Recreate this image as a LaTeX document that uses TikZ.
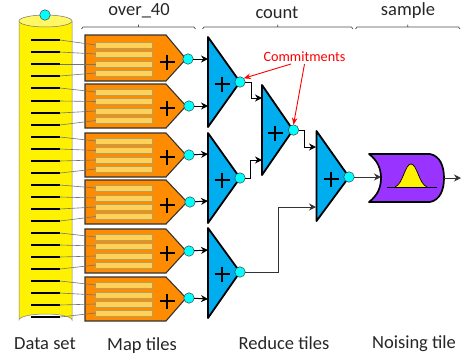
\documentclass[tikz,border=0pt]{standalone}
\usepackage{fontspec}
\setmainfont{Carlito}
\usetikzlibrary{arrows.meta}
\definecolor{tileor}{HTML}{FF8C00}
\definecolor{barfill}{HTML}{FFD257}
\definecolor{barline}{HTML}{B5A060}
\definecolor{triblue}{HTML}{00AEEF}
\definecolor{dotcy}{HTML}{00FFFF}
\definecolor{violetfill}{HTML}{9933FF}
\tikzset{
  every node/.style={inner sep=0pt,outer sep=0pt},
  dot/.style={circle,draw=black!75,line width=0.5pt,fill=dotcy,minimum size=10.5pt},
  databar/.style={rectangle,fill=black,minimum width=29pt,minimum height=2.7pt},
  inbar/.style={rectangle,draw=barline,line width=0.8pt,fill=barfill,minimum width=56.5pt,minimum height=6pt},
  wire/.style={draw=black!55,line width=0.6pt},
  flow/.style={draw=black,line width=1pt,-{Stealth[length=7pt,width=7pt]}},
  tile/.style={draw=black!80,line width=1.1pt,fill=tileor,line join=miter},
  tri/.style={draw=black,line width=1.8pt,fill=triblue,line join=round},
  brace/.style={draw=black!70,line width=0.7pt},
  lab/.style={font=\fontsize{18.5}{18.5}\selectfont,text=black!85},
  note/.style={draw=red,line width=0.9pt,-{Stealth[length=7pt,width=5.5pt]}}
}
\newcommand{\plusmark}[2]{\draw[black,line width=2.2pt] (#1-7.5,#2) -- (#1+7.5,#2) (#1,#2-7.5) -- (#1,#2+7.5);}
\begin{document}
\begin{tikzpicture}[x=1pt,y=-1pt]
\useasboundingbox (0,0) rectangle (461,360);
% cylinder
\fill[yellow,draw=black!50,line width=0.5pt] (19,21) -- (19,320) arc[start angle=180,end angle=360,x radius=26.5,y radius=6] -- (72,21);
\draw[fill=yellow!60!white,draw=black!55,line width=0.5pt] (45.5,21) ellipse[x radius=26.5,y radius=6];
\node[dot] (top) at (45,15) {};
% data lines
\foreach \i/\y in {1/40,2/52,3/64,4/76,5/88,6/101,7/113,8/125,9/137,10/149,11/161,12/173,13/185,14/197,15/209,16/221,17/233,18/245,19/257,20/269,21/281,22/293,23/305,24/317}
  \node[databar] (d\i) at (45.5,\y) {};
% map tiles
\foreach \t/\a/\b/\c/\tip in {1/35/81/59/186,2/84/128/106/186,3/133/177/155/186,4/180/224/202/187,5/229/273/251/186,6/277/321/298/186}
  \draw[tile] (85,\a) -- (166,\a) -- (\tip,\c) -- (166,\b) -- (85,\b) -- cycle;
% inner bars
\foreach \i/\y in {1/45,2/54,3/64,4/73,5/92,6/101.5,7/111,8/120.5,9/141,10/150.5,11/160,12/169,13/188,14/198,15/207,16/216.5,17/237,18/246,19/256,20/265,21/285,22/295,23/304,24/313}{
  \node[inbar] (b\i) at (124,\y) {};
  \draw[wire] (d\i.east) -- (b\i.west);
}
\plusmark{167}{62}\plusmark{167}{108}\plusmark{167}{157}\plusmark{167}{205}\plusmark{167}{253}\plusmark{167}{301}
% reduce tiles
\draw[tri] (208,37) -- (240,82) -- (208,127) -- cycle;
\draw[tri] (262,85) -- (293,130) -- (262,175) -- cycle;
\draw[tri] (208,133) -- (240,178) -- (208,223) -- cycle;
\draw[tri] (208,228) -- (240,272) -- (208,318) -- cycle;
\draw[tri] (316.5,131) -- (349,177) -- (316.5,221) -- cycle;
\plusmark{222}{84}\plusmark{275}{133}\plusmark{222}{180}\plusmark{222}{274}\plusmark{331}{179}
% inputs of the reduce tiles
\foreach \n/\x/\y in {i1/208/59,i2/208/106,i3/208/154,i4/208/201,i5/208/250,i6/208/299,j1/262/98,j2/262/160,k1/316/147,k2/316/207,n1/381/177,out/461/178}
  \coordinate (\n) at (\x,\y);
% noising tile
\draw[draw=black,line width=1.7pt,fill=violetfill,line join=round]
  (369,154) -- (430,154) .. controls (440,156) and (444,166) .. (444,178)
  .. controls (444,190) and (440,200) .. (430,202) -- (369,202)
  .. controls (377,196) and (381,188) .. (381,178)
  .. controls (381,168) and (377,160) .. (369,154) -- cycle;
\fill[yellow] (395,187) .. controls (403,184) and (405,164) .. (411,164) .. controls (417,164) and (419,184) .. (427,187) -- cycle;
\draw[black,line width=0.7pt] (387,187) -- (437,187);
\draw[black,line width=0.7pt] (395,187) .. controls (403,184) and (405,164) .. (411,164) .. controls (417,164) and (419,184) .. (427,187);
% output dots
\foreach \n/\x/\y in {m1/188/59,m2/189/106,m3/189/155,m4/190/202,m5/189/251,m6/189/298,r1/240/82,r2/293.5/130,r3/240/178,r4/240/272,r5/349/177}
  \node[dot] (\n) at (\x,\y) {};
\draw[flow] (m1) -- (i1);
\draw[flow] (m2) -- (i2);
\draw[flow] (m3) -- (i3);
\draw[flow] (m4) -- (i4);
\draw[flow] (m5) -- (i5);
\draw[flow] (m6) -- (i6);
\draw[flow] (r1.east) -- (251,82) -- (251,98) -- (j1);
\draw[flow] (r3.east) -- (250,178) -- (250,160) -- (j2);
\draw[flow] (r2.east) -- (304,130) -- (304,147) -- (k1);
\draw[flow,draw=black!80] (r4.east) -- (278,272) -- (278,207) -- (k2);
\draw[flow,draw=black!80] (r5.east) -- (n1);
\coordinate (nout) at (444,178);
\draw[flow,draw=black!80] (nout) -- (out);
% braces
\foreach \a/\b in {81.5/195.5,202.5/353,355.5/460}
  \draw[brace] (\a,29) -- (\a+1.5,27) -- ({(\a+\b)/2},27) -- ({(\a+\b)/2},24.5) -- ({(\a+\b)/2},27) -- (\b-1.5,27) -- (\b,29);
% labels
\node[lab] at (139,11) {over\_40};
\node[lab] at (277,13) {count};
\node[lab] at (408,11) {sample};
\node[lab] at (45,344) {Data set};
\node[lab] at (142,346) {Map tiles};
\node[lab] at (284,343) {Reduce tiles};
\node[lab] at (414,344) {Noising tile};
\node[font=\fontsize{14.2}{14.2}\selectfont,text=red] (cm) at (304.5,56.5) {Commitments};
\coordinate (c1) at (291,64);
\coordinate (c2) at (304.5,64);
\draw[note] (c1) -- (r1.north east);
\draw[note] (c2) -- (r2.north);
\end{tikzpicture}
\end{document}
